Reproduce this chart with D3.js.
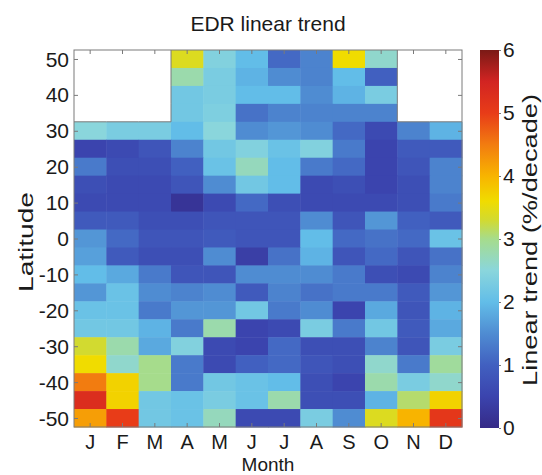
<!DOCTYPE html>
<html>
<head>
<meta charset="utf-8">
<script src="https://cdn.jsdelivr.net/npm/d3@7"></script>
<style>
  body { margin: 0; background: #fff; }
  text { font-family: "Liberation Sans", Arial, sans-serif; fill: #1a1a1a; }
</style>
</head>
<body>
<div id="my_datavis"></div>
<script>
// month labels (columns) and latitude centres (rows, north to south)
var months = ["J", "F", "M", "A", "M", "J", "J", "A", "S", "O", "N", "D"];
var lats = [50, 45, 40, 35, 30, 25, 20, 15, 10, 5, 0, -5, -10, -15, -20, -25, -30, -35, -40, -45, -50];
var latTicks = [-50, -40, -30, -20, -10, 0, 10, 20, 30, 40, 50];
var cbTicks = [0, 1, 2, 3, 4, 5, 6];

// linear trend (%/decade), one row per latitude, null = no data
var trend = [
  [null, null, null, 3.4, 2.4, 2.0, 1.1, 1.4, 3.6, 2.6, null, null],
  [null, null, null, 2.8, 2.3, 1.9, 1.5, 1.4, 2.0, 1.0, null, null],
  [null, null, null, 2.2, 2.3, 2.0, 2.0, 1.5, 1.9, 2.3, null, null],
  [null, null, null, 2.2, 2.35, 1.2, 1.4, 1.4, 1.4, 1.4, null, null],
  [2.5, 2.3, 2.3, 2.0, 2.5, 1.5, 1.6, 1.5, 1.1, 0.6, 1.4, 1.9],
  [0.5, 0.6, 0.8, 1.4, 2.2, 2.4, 2.1, 2.4, 1.3, 0.5, 0.9, 0.9],
  [1.3, 0.7, 0.7, 1.0, 2.1, 2.7, 2.0, 1.3, 1.1, 0.5, 0.8, 1.4],
  [0.7, 0.6, 0.6, 0.8, 1.5, 2.2, 2.0, 0.6, 0.7, 0.5, 0.7, 1.4],
  [0.6, 0.6, 0.6, 0.2, 0.6, 1.1, 0.7, 0.6, 0.6, 0.6, 0.7, 1.3],
  [0.9, 0.9, 0.7, 0.7, 0.8, 0.8, 0.8, 1.5, 0.8, 1.6, 1.0, 0.9],
  [1.6, 1.1, 0.8, 0.8, 0.9, 0.8, 0.8, 2.0, 1.1, 1.2, 1.1, 2.1],
  [1.7, 0.9, 0.7, 0.7, 1.5, 0.4, 1.2, 1.9, 0.8, 1.1, 0.8, 1.2],
  [2.0, 1.8, 1.3, 0.8, 0.8, 1.5, 1.5, 1.5, 1.3, 0.7, 0.6, 1.4],
  [1.6, 2.1, 1.5, 1.4, 1.5, 0.9, 1.4, 1.2, 1.3, 1.3, 0.9, 1.6],
  [2.1, 2.1, 1.3, 1.6, 1.6, 2.2, 1.3, 1.5, 0.5, 1.8, 0.8, 1.9],
  [2.2, 2.2, 1.9, 1.3, 2.8, 0.5, 0.6, 2.3, 1.3, 2.2, 0.9, 1.8],
  [3.3, 2.8, 1.8, 2.4, 0.6, 0.5, 1.1, 0.7, 0.7, 1.4, 0.8, 2.3],
  [3.6, 2.6, 3.0, 1.3, 0.6, 1.0, 1.1, 0.8, 0.7, 2.6, 1.3, 2.9],
  [4.5, 3.7, 3.0, 1.3, 2.2, 2.1, 2.0, 0.7, 0.5, 2.8, 2.3, 2.6],
  [5.3, 3.7, 2.2, 2.1, 2.3, 2.1, 2.8, 0.7, 0.7, 1.9, 3.1, 3.7],
  [4.2, 5.0, 2.2, 2.1, 2.7, 0.6, 0.6, 2.3, 1.5, 3.4, 4.0, 5.1]
];

// colormap stops
var cmapStops = [0, 0.5, 1, 1.5, 2, 2.5, 3, 3.3, 3.6, 4, 4.5, 5, 5.5, 6];
var cmapColors = ["#352a87", "#3b44ae", "#4160c0", "#4f8cd2", "#62bde8", "#8ad6dc", "#a6dc8c",
                  "#d2da30", "#f0dc00", "#f8b400", "#f27c10", "#e83c18", "#d22422", "#7a1a16"];

var W = 542, H = 475;
var plot = { left: 74, right: 462, top: 50, bottom: 427 };
var cbar = { left: 480, right: 499, top: 50, bottom: 428 };

var svg = d3.select("#my_datavis").append("svg")
  .attr("width", W).attr("height", H);

var color = d3.scaleLinear().domain(cmapStops).range(cmapColors).clamp(true);

var x = d3.scaleBand().domain(d3.range(months.length)).range([plot.left, plot.right]);
var y = d3.scaleLinear().domain([-52.5, 52.5]).range([plot.bottom, plot.top]);

var cells = [];
lats.forEach(function(lat, i) {
  months.forEach(function(m, j) {
    cells.push({ lat: lat, row: i, col: j, value: trend[i][j] });
  });
});

svg.append("g").selectAll("rect")
  .data(cells)
  .enter().append("rect")
  .attr("x", function(d) { return x(d.col); })
  .attr("y", function(d) { return y(d.lat + 2.5); })
  .attr("width", x.bandwidth() + 0.5)
  .attr("height", y(0) - y(5) + 0.5)
  .attr("fill", function(d) { return d.value == null ? "#fff" : color(d.value); });

// outline around the missing-data region
var edge = svg.append("g").attr("stroke", "#7a7a7a").attr("stroke-width", 1);
cells.forEach(function(d) {
  if (d.value == null) return;
  var x0 = x(d.col), x1 = x(d.col) + x.bandwidth();
  var y0 = y(d.lat + 2.5), y1 = y(d.lat - 2.5);
  if (d.row > 0 && trend[d.row - 1][d.col] == null)
    edge.append("line").attr("x1", x0).attr("x2", x1).attr("y1", y0).attr("y2", y0);
  if (d.col > 0 && trend[d.row][d.col - 1] == null)
    edge.append("line").attr("x1", x0).attr("x2", x0).attr("y1", y0).attr("y2", y1);
  if (d.col < months.length - 1 && trend[d.row][d.col + 1] == null)
    edge.append("line").attr("x1", x1).attr("x2", x1).attr("y1", y0).attr("y2", y1);
});

// box
svg.append("rect")
  .attr("x", plot.left).attr("y", plot.top)
  .attr("width", plot.right - plot.left).attr("height", plot.bottom - plot.top)
  .attr("fill", "none").attr("stroke", "#7a7a7a").attr("stroke-width", 1);

// axes with inward ticks
var yAxisL = svg.append("g").attr("transform", "translate(" + plot.left + ",0)")
  .call(d3.axisRight(y).tickValues(latTicks).tickSize(4).tickFormat(""));
var yAxisR = svg.append("g").attr("transform", "translate(" + plot.right + ",0)")
  .call(d3.axisLeft(y).tickValues(latTicks).tickSize(4).tickFormat(""));
var xAxisT = svg.append("g").attr("transform", "translate(0," + plot.top + ")")
  .call(d3.axisBottom(x).tickSize(4).tickFormat(""));
var xAxisB = svg.append("g").attr("transform", "translate(0," + plot.bottom + ")")
  .call(d3.axisTop(x).tickSize(4).tickFormat(""));
[yAxisL, yAxisR, xAxisT, xAxisB].forEach(function(g) {
  g.select(".domain").remove();
  g.selectAll("line").attr("stroke", "#7a7a7a");
});

// tick labels
svg.append("g").selectAll("text")
  .data(latTicks).enter().append("text")
  .attr("x", plot.left - 5)
  .attr("y", function(d) { return y(d); })
  .attr("dy", "0.36em")
  .attr("text-anchor", "end")
  .style("font-size", "21px")
  .text(function(d) { return d; });

svg.append("g").selectAll("text")
  .data(months).enter().append("text")
  .attr("x", function(d, i) { return x(i) + x.bandwidth() / 2; })
  .attr("y", plot.bottom + 22)
  .attr("text-anchor", "middle")
  .style("font-size", "20px")
  .text(function(d) { return d; });

// titles
svg.append("text")
  .attr("x", (plot.left + plot.right) / 2).attr("y", 31)
  .attr("text-anchor", "middle")
  .style("font-size", "21px")
  .text("EDR linear trend");

svg.append("text")
  .attr("x", (plot.left + plot.right) / 2).attr("y", 471)
  .attr("text-anchor", "middle")
  .style("font-size", "19px")
  .text("Month");

svg.append("text")
  .attr("transform", "translate(33,242) rotate(-90)")
  .attr("text-anchor", "middle")
  .attr("textLength", 100)
  .attr("lengthAdjust", "spacingAndGlyphs")
  .style("font-size", "21px")
  .text("Latitude");

// colorbar
var cy = d3.scaleLinear().domain([0, 6]).range([cbar.bottom, cbar.top]);
var grad = svg.append("defs").append("linearGradient")
  .attr("id", "cmap").attr("x1", 0).attr("x2", 0).attr("y1", 1).attr("y2", 0);
grad.selectAll("stop")
  .data(cmapStops).enter().append("stop")
  .attr("offset", function(d) { return d / 6; })
  .attr("stop-color", function(d, i) { return cmapColors[i]; });

svg.append("rect")
  .attr("x", cbar.left).attr("y", cbar.top)
  .attr("width", cbar.right - cbar.left).attr("height", cbar.bottom - cbar.top)
  .attr("fill", "url(#cmap)");

var cAxis = svg.append("g").attr("transform", "translate(" + cbar.right + ",0)")
  .call(d3.axisRight(cy).tickValues(cbTicks).tickSize(2).tickPadding(2).tickFormat(d3.format("d")));
cAxis.select(".domain").remove();
cAxis.selectAll("line").attr("stroke", "#7a7a7a");
cAxis.selectAll("text")
  .style("font-size", "21px")
  .style("font-family", "'Liberation Sans', Arial, sans-serif")
  .attr("fill", "#1a1a1a");

svg.append("text")
  .attr("transform", "translate(537,240) rotate(-90)")
  .attr("text-anchor", "middle")
  .attr("textLength", 292)
  .attr("lengthAdjust", "spacingAndGlyphs")
  .style("font-size", "21px")
  .text("Linear trend (%/decade)");
</script>
</body>
</html>
